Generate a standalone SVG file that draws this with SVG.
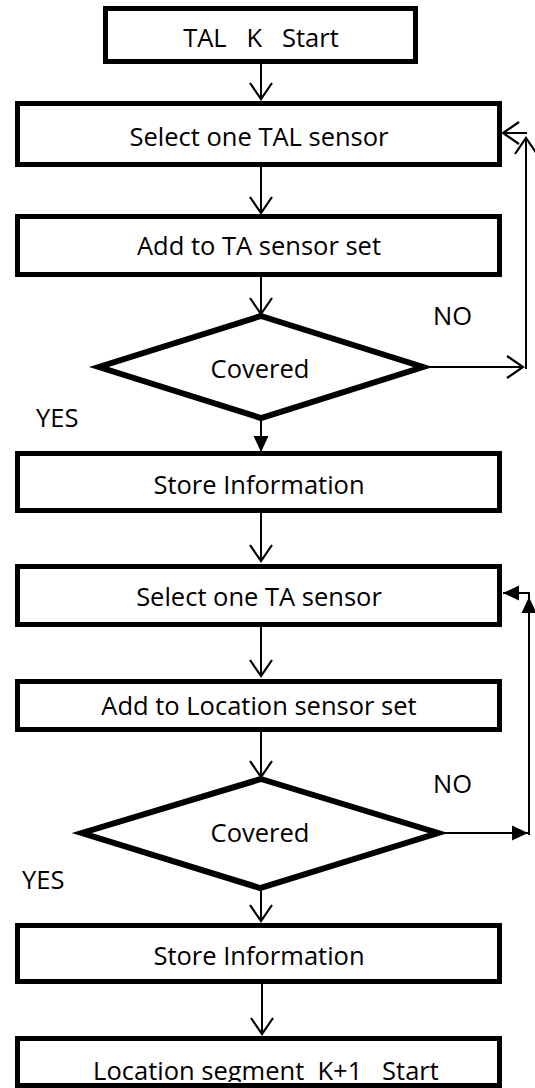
<svg xmlns="http://www.w3.org/2000/svg" width="535" height="1088" viewBox="0 0 535 1088">
<style>
.box{fill:#fff;stroke:#000;stroke-width:5}
.dia{fill:#fff;stroke:#000;stroke-width:6;stroke-linejoin:miter}
.t{font-family:"Open Sans","Liberation Sans",sans-serif;font-size:25.5px;fill:#000;text-anchor:middle}
.l{font-family:"Open Sans","Liberation Sans",sans-serif;font-size:25.5px;fill:#000}
.c{fill:none;stroke:#000;stroke-width:2}
</style>
<defs>
<marker id="open" markerUnits="userSpaceOnUse" viewBox="-18 -12 20 24" refX="0" refY="0" markerWidth="20" markerHeight="24" orient="auto" overflow="visible">
<path d="M-16,-11 L0,0 L-16,11" fill="none" stroke="#000" stroke-width="2.2"/>
</marker>
<marker id="fill" markerUnits="userSpaceOnUse" viewBox="-18 -9 20 18" refX="0" refY="0" markerWidth="20" markerHeight="18" orient="auto" overflow="visible">
<path d="M-16,-7.5 L0,0 L-16,7.5 Z" fill="#000"/>
</marker>
<clipPath id="clipLast"><rect x="0" y="1030" width="535" height="52"/></clipPath>
</defs>
<rect x="0" y="0" width="535" height="1088" fill="#fff"/>

<g id="connectors">
<line class="c" x1="261" y1="64" x2="261" y2="99" marker-end="url(#open)"/>
<line class="c" x1="261" y1="167" x2="261" y2="213" marker-end="url(#open)"/>
<line class="c" x1="261" y1="277" x2="261" y2="314" marker-end="url(#open)"/>
<line class="c" x1="423" y1="367" x2="523" y2="367" marker-end="url(#open)"/>
<line class="c" x1="526" y1="369" x2="526" y2="138" marker-end="url(#open)"/>
<line class="c" x1="527" y1="133" x2="503" y2="133" marker-end="url(#open)"/>
<line class="c" x1="261" y1="418" x2="261" y2="452" marker-end="url(#fill)"/>
<line class="c" x1="261" y1="513" x2="261" y2="561" marker-end="url(#open)"/>
<line class="c" x1="261" y1="627" x2="261" y2="676" marker-end="url(#open)"/>
<line class="c" x1="261" y1="732" x2="261" y2="777" marker-end="url(#open)"/>
<line class="c" x1="438" y1="833" x2="528" y2="833" marker-end="url(#fill)"/>
<line class="c" x1="529" y1="835" x2="529" y2="597" marker-end="url(#fill)"/>
<path class="c" d="M529,598 V593 H503" marker-end="url(#fill)"/>
<line class="c" x1="261" y1="888" x2="261" y2="921" marker-end="url(#open)"/>
<line class="c" x1="262" y1="984" x2="262" y2="1034" marker-end="url(#open)"/>
</g>

<g id="tal-start">
<rect class="box" x="105.5" y="8.5" width="310" height="53"/>
<text class="t" x="261" y="47" xml:space="preserve" style="white-space:pre">TAL   K   Start</text>
</g>
<g id="select-tal">
<rect class="box" x="17.5" y="103.5" width="482" height="61"/>
<text class="t" x="259" y="146">Select one TAL sensor</text>
</g>
<g id="add-ta">
<rect class="box" x="17.5" y="216.5" width="482" height="58"/>
<text class="t" x="259" y="255">Add to TA sensor set</text>
</g>
<g id="covered-1">
<polygon class="dia" points="261,316 423,367 261,418 99,367"/>
<text class="t" x="260" y="378">Covered</text>
</g>
<g id="no-1"><text class="l" x="433" y="325">NO</text></g>
<g id="yes-1"><text class="l" x="36" y="427">YES</text></g>
<g id="store-1">
<rect class="box" x="17.5" y="453.5" width="482" height="57"/>
<text class="t" x="259" y="494">Store Information</text>
</g>
<g id="select-ta">
<rect class="box" x="17.5" y="566.5" width="482" height="58"/>
<text class="t" x="259" y="606">Select one TA sensor</text>
</g>
<g id="add-location">
<rect class="box" x="17.5" y="681.5" width="482" height="48"/>
<text class="t" x="259" y="715">Add to Location sensor set</text>
</g>
<g id="covered-2">
<polygon class="dia" points="261,779 438,833 260,888 82,833"/>
<text class="t" x="260" y="842">Covered</text>
</g>
<g id="no-2"><text class="l" x="433" y="793">NO</text></g>
<g id="yes-2"><text class="l" x="22" y="889">YES</text></g>
<g id="store-2">
<rect class="box" x="17.5" y="925.5" width="482" height="56"/>
<text class="t" x="259" y="965">Store Information</text>
</g>
<g id="location-next">
<rect class="box" x="17.5" y="1038.5" width="482" height="47"/>
<text class="t" x="266" y="1080" clip-path="url(#clipLast)" xml:space="preserve" style="white-space:pre">Location segment  K+1   Start</text>
<line x1="15" y1="1085.5" x2="502" y2="1085.5" stroke="#000" stroke-width="5"/>
</g>
</svg>
